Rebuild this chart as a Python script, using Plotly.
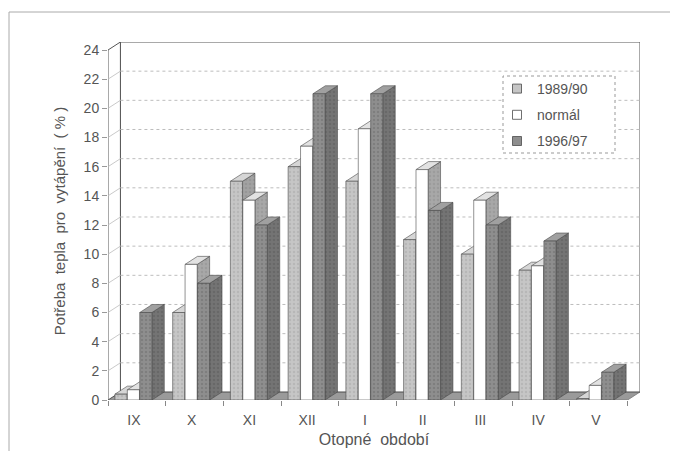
import plotly.graph_objects as go

categories = ["IX", "X", "XI", "XII", "I", "II", "III", "IV", "V"]
series_names = ["1989/90", "normál", "1996/97"]
s_1989 = [0.4, 6.0, 15.0, 16.0, 15.0, 11.0, 10.0, 8.9, 0.1]
s_norm = [0.7, 9.3, 13.7, 17.4, 18.6, 15.8, 13.7, 9.2, 1.0]
s_1996 = [6.0, 8.0, 12.0, 21.0, 21.0, 13.0, 12.0, 10.9, 1.9]
y_ticks = list(range(0, 25, 2))

series = [s_1989, s_norm, s_1996]

# geometry (style)
DX = 0.215   # depth in category units
DY = 0.55    # depth in value units
W = 0.21
OFF = [0.12, 0.335, 0.55]
N = len(categories)
YMAX = 24

front_col = ["#c6c6c6", "#ffffff", "#8e8e8e"]
front_fg = ["#a8a8a8", "#ffffff", "#6e6e6e"]
top_col = ["#d6d6d6", "#e2e2e2", "#a0a0a0"]
side_col = ["#a2a2a2", "#a8a8a8", "#747474"]
side_fg = ["#8a8a8a", "#909090", "#5c5c5c"]
edge = "#4a4a4a"

# page->paper helpers (page has an 8px body offset)
PX0, PX1, PY0, PY1 = 108, 640, 400, 42
def px(p):
    return (p - PX0) / (PX1 - PX0)
def py(p):
    return (PY0 - p) / (PY0 - PY1)

fig = go.Figure()

def poly(xs_list, ys_list):
    X, Y = [], []
    for xs, ys in zip(xs_list, ys_list):
        X += xs + [xs[0], None]
        Y += ys + [ys[0], None]
    return X, Y

# floor
fx, fy = poly([[0, N, N + DX, DX]], [[0, 0, DY, DY]])
fig.add_trace(go.Scatter(x=fx, y=fy, fill="toself", fillcolor="#9a9a9a",
                         line=dict(color="#777", width=0.8), mode="lines",
                         hoverinfo="skip", showlegend=False))
# back wall
bx, by = poly([[DX, N + DX, N + DX, DX]], [[DY, DY, YMAX + DY, YMAX + DY]])
fig.add_trace(go.Scatter(x=bx, y=by, fill="toself", fillcolor="#ffffff",
                         line=dict(color="#555", width=1), mode="lines",
                         hoverinfo="skip", showlegend=False))
# left wall
lx, ly = poly([[0, DX, DX, 0]], [[0, DY, YMAX + DY, YMAX]])
fig.add_trace(go.Scatter(x=lx, y=ly, fill="toself", fillcolor="#ffffff",
                         line=dict(color="#555", width=1), mode="lines",
                         hoverinfo="skip", showlegend=False))
# gridlines on back wall
gx, gy = [], []
for v in y_ticks[1:-1]:
    gx += [DX, N + DX, None]
    gy += [v + DY, v + DY, None]
fig.add_trace(go.Scatter(x=gx, y=gy, mode="lines",
                         line=dict(color="#bdbdbd", width=1, dash="dot"),
                         hoverinfo="skip", showlegend=False))
# slanted gridlines on left wall
sx, sy = [], []
for v in y_ticks[1:-1]:
    sx += [0, DX, None]
    sy += [v, v + DY, None]
fig.add_trace(go.Scatter(x=sx, y=sy, mode="lines",
                         line=dict(color="#bbbbbb", width=0.8),
                         hoverinfo="skip", showlegend=False))

# bars: per series side, top, front
for k, vals in enumerate(series):
    sides_x, sides_y, tops_x, tops_y, fr_x, fr_y = [], [], [], [], [], []
    for i, v in enumerate(vals):
        x0 = i + OFF[k]
        x1 = x0 + W
        sides_x.append([x1, x1 + DX, x1 + DX, x1])
        sides_y.append([0, DY, v + DY, v])
        tops_x.append([x0, x1, x1 + DX, x0 + DX])
        tops_y.append([v, v, v + DY, v + DY])
        fr_x.append([x0, x1, x1, x0])
        fr_y.append([0, 0, v, v])
    X, Y = poly(sides_x, sides_y)
    fig.add_trace(go.Scatter(x=X, y=Y, fill="toself", fillcolor=side_col[k], mode="lines",
                             line=dict(color=edge, width=0.6),
                             fillpattern=dict(shape=".", fgcolor=side_fg[k], bgcolor=side_col[k],
                                              size=4, solidity=0.35),
                             hoverinfo="skip", showlegend=False))
    X, Y = poly(tops_x, tops_y)
    fig.add_trace(go.Scatter(x=X, y=Y, fill="toself", fillcolor=top_col[k], mode="lines",
                             line=dict(color=edge, width=0.6),
                             hoverinfo="skip", showlegend=False))
    X, Y = poly(fr_x, fr_y)
    pat = None
    if k != 1:
        pat = dict(shape=".", fgcolor=front_fg[k], bgcolor=front_col[k], size=4, solidity=0.3)
    fig.add_trace(go.Scatter(x=X, y=Y, fill="toself", fillcolor=front_col[k], mode="lines",
                             line=dict(color=edge, width=0.6),
                             fillpattern=pat,
                             hoverinfo="skip", showlegend=False))

# legend entries
for k, name in enumerate(series_names):
    fig.add_trace(go.Scatter(x=[None], y=[None], name=name, legendgroup=name, mode="markers",
                             marker=dict(symbol="square", size=9, color=front_col[k],
                                         line=dict(color=edge, width=0.8))))

fig.update_layout(
    width=662, height=443,
    margin=dict(l=100, r=30, t=34, b=51),
    paper_bgcolor="white", plot_bgcolor="white",
    font=dict(family="Liberation Sans, Arial, sans-serif", color="#555", size=14),
    showlegend=True,
    legend=dict(x=px(497), y=py(73), xanchor="left", yanchor="top",
                bgcolor="rgba(0,0,0,0)", borderwidth=0, traceorder="grouped",
                tracegroupgap=5, font=dict(size=14, color="#555"), itemwidth=30),
    xaxis=dict(range=[0, N + DX], showgrid=False, zeroline=False, showline=False,
               tickmode="array", tickvals=[i + 0.45 for i in range(N)], ticktext=categories,
               ticks="", ticklabelstandoff=10, tickfont=dict(size=14, color="#555"),
               minor=dict(tickmode="array", tickvals=list(range(N + 1)), ticks="outside",
                          ticklen=5, tickcolor="#888", tickwidth=1),
               title=dict(text="Otopné\u00a0\u00a0období", standoff=6,
                          font=dict(size=16, color="#555")),
               automargin=False, fixedrange=True),
    yaxis=dict(range=[0, YMAX + DY], showgrid=False, zeroline=False, showline=False,
               tickmode="array", tickvals=y_ticks, ticks="outside", ticklen=5,
               tickcolor="#999", tickfont=dict(size=14, color="#555"),
               title=dict(text="Potřeba\u00a0\u00a0tepla\u00a0\u00a0pro\u00a0\u00a0vytápění\u00a0\u00a0(\u00a0%\u00a0)",
                          standoff=14, font=dict(size=15, color="#555")),
               automargin=False, fixedrange=True),
    shapes=[
        # legend box
        dict(type="rect", xref="paper", yref="paper",
             x0=px(503), x1=px(615), y0=py(153), y1=py(76),
             fillcolor="white", line=dict(color="#999", width=1, dash="dot"), layer="above"),
        # outer frame: top and left edges
        dict(type="line", xref="paper", yref="paper",
             x0=px(9), x1=px(700), y0=py(12), y1=py(12),
             line=dict(color="#aaa", width=1), layer="below"),
        dict(type="line", xref="paper", yref="paper",
             x0=px(9), x1=px(9), y0=py(12), y1=py(500),
             line=dict(color="#aaa", width=1), layer="below"),
    ],
)

fig.write_html("out.html")
